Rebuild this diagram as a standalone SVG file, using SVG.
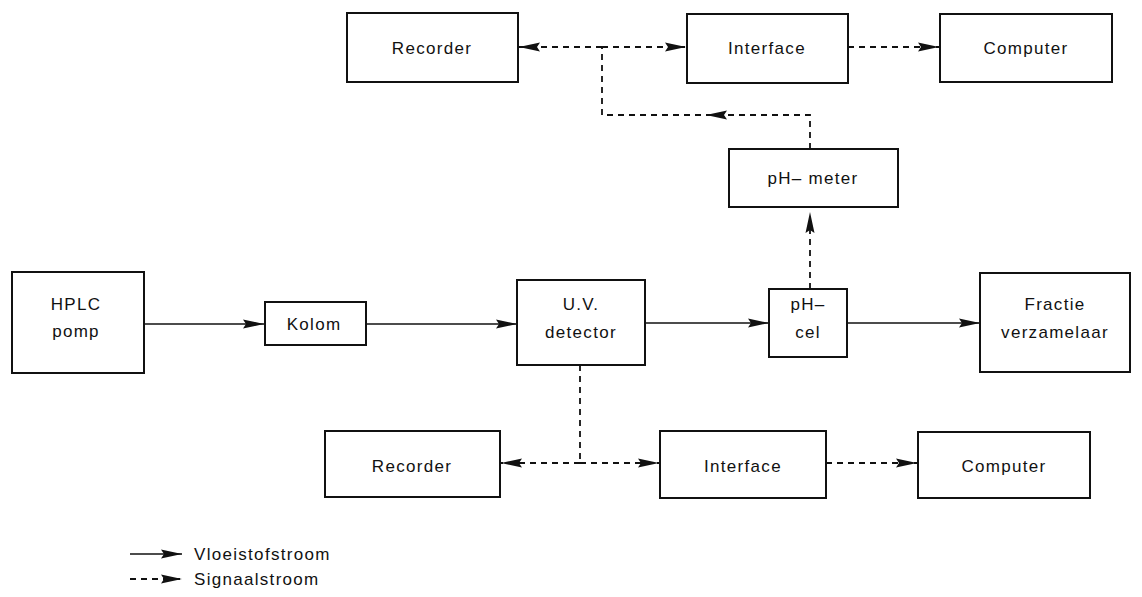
<svg xmlns="http://www.w3.org/2000/svg" width="1142" height="597" viewBox="0 0 1142 597">
<style>
.box{fill:#fff;stroke:#111;stroke-width:2}
.t{font-family:"Liberation Sans",Arial,sans-serif;font-size:17px;letter-spacing:1.3px;fill:#111;text-anchor:middle}
.tl{font-family:"Liberation Sans",Arial,sans-serif;font-size:17px;letter-spacing:1.3px;fill:#111}
.flow{fill:none;stroke:#111;stroke-width:1.6}
.sig{fill:none;stroke:#111;stroke-width:1.8;stroke-dasharray:6 5}
</style>
<defs>
<marker id="ah" markerUnits="userSpaceOnUse" markerWidth="24" markerHeight="12" viewBox="0 -6 24 12" refX="21" refY="0" orient="auto">
<path d="M0,-4.5 L21,0 L0,4.5 L3,0 z" fill="#111"/>
</marker>
</defs>
<rect width="1142" height="597" fill="#fff"/>
<g id="connectors">
<path class="flow" d="M144,324 H264" marker-end="url(#ah)"/>
<path class="flow" d="M366,324 H517" marker-end="url(#ah)"/>
<path class="flow" d="M645,323 H769" marker-end="url(#ah)"/>
<path class="flow" d="M847,323 H980" marker-end="url(#ah)"/>
<path class="sig" d="M810,289 V212" marker-end="url(#ah)"/>
<path class="sig" d="M810,149 V115 H706" marker-end="url(#ah)"/>
<path class="sig" d="M712,115 H602 V47"/>
<path class="sig" d="M602,47 H519" marker-end="url(#ah)"/>
<path class="sig" d="M602,47 H686" marker-end="url(#ah)"/>
<path class="sig" d="M848,47 H939" marker-end="url(#ah)"/>
<path class="sig" d="M580,365 V463"/>
<path class="sig" d="M580,463 H501" marker-end="url(#ah)"/>
<path class="sig" d="M580,463 H659" marker-end="url(#ah)"/>
<path class="sig" d="M826,463 H917" marker-end="url(#ah)"/>
<path class="flow" d="M130,554 H182" marker-end="url(#ah)"/>
<path class="sig" d="M130,579 H182" stroke-dasharray="5 5" marker-end="url(#ah)"/>
</g>
<g id="recorder-top"><rect class="box" x="347" y="13" width="171" height="69"/><text class="t" x="432" y="54">Recorder</text></g>
<g id="interface-top"><rect class="box" x="687" y="14" width="161" height="69"/><text class="t" x="767" y="54">Interface</text></g>
<g id="computer-top"><rect class="box" x="940" y="14" width="172" height="68"/><text class="t" x="1026" y="54">Computer</text></g>
<g id="ph-meter"><rect class="box" x="729" y="149" width="169" height="58"/><text class="t" x="813" y="184">pH– meter</text></g>
<g id="hplc"><rect class="box" x="12" y="272" width="132" height="101"/><text class="t" x="76" y="310">HPLC</text><text class="t" x="76" y="337">pomp</text></g>
<g id="kolom"><rect class="box" x="265" y="302" width="101" height="43"/><text class="t" x="314" y="330">Kolom</text></g>
<g id="uv"><rect class="box" x="517" y="280" width="128" height="85"/><text class="t" x="581" y="310">U.V.</text><text class="t" x="581" y="338">detector</text></g>
<g id="ph-cel"><rect class="box" x="769" y="289" width="78" height="68"/><text class="t" x="808" y="310">pH–</text><text class="t" x="808" y="338">cel</text></g>
<g id="fractie"><rect class="box" x="980" y="273" width="150" height="99"/><text class="t" x="1055" y="310">Fractie</text><text class="t" x="1055" y="338">verzamelaar</text></g>
<g id="recorder-bottom"><rect class="box" x="325" y="431" width="175" height="66"/><text class="t" x="412" y="472">Recorder</text></g>
<g id="interface-bottom"><rect class="box" x="660" y="431" width="166" height="67"/><text class="t" x="743" y="472">Interface</text></g>
<g id="computer-bottom"><rect class="box" x="918" y="432" width="172" height="66"/><text class="t" x="1004" y="472">Computer</text></g>
<g id="legend">
<text class="tl" x="194" y="560">Vloeistofstroom</text>
<text class="tl" x="194" y="585">Signaalstroom</text>
</g>
</svg>
